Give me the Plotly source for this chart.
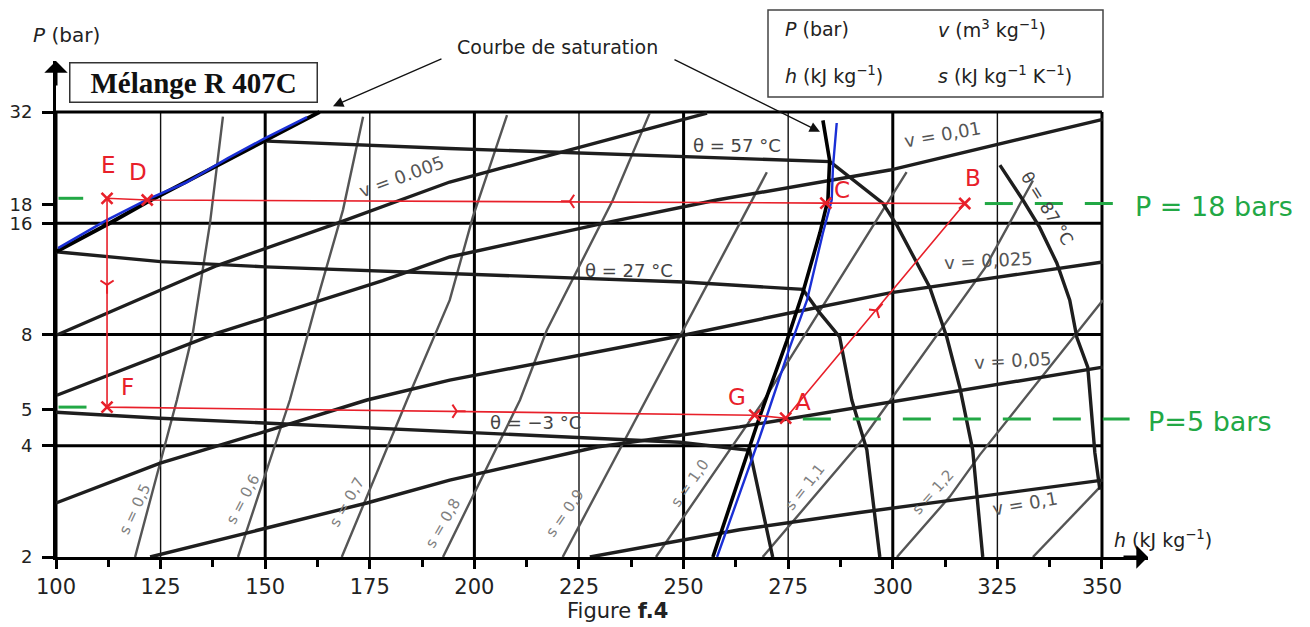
import math
import plotly.graph_objects as go

# ---------------- axes / grid ----------------
H_TICKS = [100, 125, 150, 175, 200, 225, 250, 275, 300, 325, 350]
H_MINOR = [112.5, 137.5, 162.5, 187.5, 212.5, 237.5, 262.5, 287.5, 312.5, 337.5]
P_TICKS = [2, 4, 5, 8, 16, 18, 32]
H_GRID_THICK = [100, 150, 200, 250, 300, 350]
H_GRID_THIN = [125, 175, 225, 275, 325]
P_GRID = [4, 8, 16, 32]
X_RANGE = [100, 361]
P_RANGE = [2, 44]

# ---------------- saturation curve ----------------
LIQ_H = [100.0, 112.8, 121.5, 149.4, 163.0]
LIQ_P = [13.4, 16.0, 18.2, 26.5, 32.0]
VAP_H = [283.3, 284.9, 284.5, 282.6, 278.5, 274.7, 268.2, 265.8, 257.0]
VAP_P = [30.4, 23.7, 18.5, 15.1, 10.4, 7.7, 4.8, 3.97, 2.0]
BLUE_LIQ_H = [100.5, 112.0, 122.0, 131.0, 141.0, 150.0, 160.0]
BLUE_LIQ_P = [13.7, 16.3, 18.6, 20.6, 24.0, 27.2, 31.0]
BLUE_VAP_H = [286.6, 285.7, 285.4, 283.3, 279.5, 275.4, 268.2, 258.0]
BLUE_VAP_P = [29.9, 22.7, 18.5, 15.06, 9.91, 7.40, 4.22, 2.0]

# ---------------- isotherms ----------------
T57_H = [150.4, 194.0, 285.0, 297.6, 301.0, 308.8, 312.9, 316.0, 319.1, 321.5]
T57_P = [26.7, 25.5, 23.5, 18.15, 15.8, 10.76, 7.88, 5.77, 3.90, 2.0]
T27_H = [100.0, 125.0, 150.0, 194.0, 250.0, 278.5, 282.6, 287.3, 290.2, 293.8, 296.9]
T27_P = [13.4, 12.6, 12.2, 11.7, 11.1, 10.6, 9.14, 7.88, 5.32, 3.90, 2.0]
TM3_H = [100.0, 124.9, 149.7, 174.6, 199.6, 224.5, 249.1, 265.8, 271.3]
TM3_P = [4.93, 4.75, 4.61, 4.47, 4.33, 4.20, 4.09, 3.89, 2.0]
T87_H = [325.6, 331.1, 335.1, 339.2, 342.3, 344.0, 346.6, 348.3, 349.5]
T87_P = [23.0, 18.5, 15.6, 12.5, 9.91, 7.85, 6.53, 3.83, 3.04]

# ---------------- isochores v ----------------
V005_H = [100.2, 138.5, 167.1, 194.1, 255.6]
V005_P = [7.98, 12.3, 16.0, 20.7, 31.8]
V01_H = [100.2, 138.5, 178.1, 194.1, 230.7, 257.9, 299.3, 350.2]
V01_P = [5.48, 8.07, 11.2, 12.97, 16.0, 18.5, 22.3, 30.6]
V025_H = [100.0, 124.9, 149.7, 174.3, 194.1, 249.1, 275.4, 299.3, 350.2]
V025_P = [2.80, 3.59, 4.36, 5.32, 6.02, 7.93, 9.15, 10.37, 12.57]
V05_H = [122.5, 174.3, 194.1, 229.3, 263.4, 292.1, 350.2]
V05_P = [2.0, 2.80, 3.23, 3.97, 4.50, 5.09, 6.53]
V1_H = [227.6, 263.4, 292.1, 350.2]
V1_P = [2.0, 2.37, 2.64, 3.23]

# ---------------- isentropes s ----------------
S05_H = [118.9, 128.9, 132.7, 136.8, 139.9]
S05_P = [2.0, 5.32, 8.07, 16.0, 31.1]
S06_H = [143.5, 155.9, 162.4, 168.6, 173.4]
S06_P = [2.0, 5.32, 9.91, 17.4, 31.1]
S07_H = [168.3, 183.9, 194.1, 199.6, 207.8]
S07_P = [2.0, 5.32, 9.91, 16.6, 31.4]
S08_H = [192.5, 210.9, 217.3, 233.1, 241.9]
S08_P = [2.0, 5.32, 8.22, 18.5, 31.8]
S09_H = [221.1, 249.1, 269.9]
S09_P = [2.0, 7.88, 22.0]
S10_H = [243.4, 268.9, 303.3]
S10_P = [2.0, 5.25, 22.0]
S11_H = [268.9, 292.1, 322.0, 333.5]
S11_P = [2.0, 4.07, 12.1, 20.9]
S12_H = [301.0, 313.6, 320.8, 350.2]
S12_P = [2.0, 2.91, 3.78, 9.91]
S13_H = [333.5, 349.5]
S13_P = [2.0, 3.09]

# ---------------- cycle (hand drawn) ----------------
CYCLE_NAMES = ["A", "B", "C", "D", "E", "F", "G"]
CYCLE_H = [274.4, 317.2, 284.0, 121.8, 112.2, 112.2, 267.0]
CYCLE_P = [4.75, 18.1, 18.15, 18.5, 18.7, 5.09, 4.84]
ARROW_H = [296.2, 222.8, 112.2, 195.8]
ARROW_P = [9.3, 18.35, 10.9, 4.96]
ARROW_ANGLE = [40, 270, 180, 90]

# green reference lines
G18_H = [322.0, 356.6]
G18_P = [18.1, 18.1]
G18L_H = [100.6, 106.5]
G18L_P = [18.7, 18.7]
G5_H = [278.5, 356.6]
G5_P = [4.73, 4.73]
G5L_H = [100.6, 109.3]
G5L_P = [5.09, 5.09]

FONT = "DejaVu Sans, sans-serif"

# page offset of the figure inside the browser window, and plot-area geometry
OFF = 8
L, T, PW, PH = 56, 61, 1092, 496


def pxx(x):
    return (x - L) / PW


def pxy(y):
    return (T + PH - y) / PH


fig = go.Figure()


def line(h, p, color, width, dash=None):
    fig.add_trace(go.Scatter(x=h, y=p, mode="lines",
                             line=dict(color=color, width=width, dash=dash),
                             hoverinfo="skip", showlegend=False))


# grid
for h in H_GRID_THIN:
    line([h, h], [P_RANGE[0], P_GRID[-1]], "#111", 1.4)
for h in H_GRID_THICK:
    line([h, h], [P_RANGE[0], P_GRID[-1]], "#000", 3)
for p in P_GRID:
    line([H_GRID_THICK[0], H_GRID_THICK[-1]], [p, p], "#000", 3)

# isentropes
S_COL = "#555"
for hh, pp in [(S05_H, S05_P), (S06_H, S06_P), (S07_H, S07_P), (S08_H, S08_P),
               (S09_H, S09_P), (S10_H, S10_P), (S11_H, S11_P), (S12_H, S12_P),
               (S13_H, S13_P)]:
    line(hh, pp, S_COL, 2.4)

# isochores
ISO_COL = "#1e1e1e"
for hh, pp in [(V005_H, V005_P), (V01_H, V01_P), (V025_H, V025_P),
               (V05_H, V05_P), (V1_H, V1_P)]:
    line(hh, pp, ISO_COL, 3.4)

# isotherms
for hh, pp in [(T57_H, T57_P), (T27_H, T27_P), (TM3_H, TM3_P), (T87_H, T87_P)]:
    line(hh, pp, ISO_COL, 3.4)

# saturation
line(LIQ_H, LIQ_P, "#000", 4)
line(VAP_H, VAP_P, "#000", 3.6)
line(BLUE_LIQ_H, BLUE_LIQ_P, "#1a2fd6", 2.6)
line(BLUE_VAP_H, BLUE_VAP_P, "#1a2fd6", 2.4)

# green dashed lines
GREEN = "#22a845"
for hh, pp in [(G18_H, G18_P), (G18L_H, G18L_P), (G5_H, G5_P), (G5L_H, G5L_P)]:
    line(hh, pp, GREEN, 3, dash="28px,22px")

# red cycle
RED = "#e8202a"
idx = {n: i for i, n in enumerate(CYCLE_NAMES)}
path = ["A", "B", "C", "D", "E", "F", "G", "A"]
line([CYCLE_H[idx[n]] for n in path], [CYCLE_P[idx[n]] for n in path], RED, 1.6)
fig.add_trace(go.Scatter(x=CYCLE_H, y=CYCLE_P, mode="markers",
                         marker=dict(symbol="x-thin", size=11, color=RED,
                                     line=dict(color=RED, width=2.6)),
                         hoverinfo="skip", showlegend=False))
fig.add_trace(go.Scatter(x=ARROW_H, y=ARROW_P, mode="markers",
                         marker=dict(symbol="y-up", size=11, color=RED, angle=ARROW_ANGLE,
                                     line=dict(color=RED, width=2)),
                         hoverinfo="skip", showlegend=False))

ann = []


def text(x, y, t, size=18, color="#222", angle=0, family=FONT, xanchor="center", **kw):
    ann.append(dict(x=pxx(x), y=pxy(y), xref="paper", yref="paper", text=t,
                    showarrow=False, font=dict(family=family, size=size, color=color),
                    textangle=angle, xanchor=xanchor, yanchor="middle", **kw))


# red point letters
for name, (x, y) in zip(CYCLE_NAMES, [(803, 402), (973, 178), (842, 190), (138, 172),
                                      (108, 165), (127, 387), (737, 397)]):
    text(x, y, name, size=23, color=RED)

# isotherm labels
text(737, 145, "θ = 57 °C", 18, "#444")
text(629, 270, "θ = 27 °C", 18, "#444")
text(535, 422, "θ = −3 °C", 18, "#444")
text(1047, 208, "θ = 87 °C", 17, "#444", angle=58)

# isochore labels
text(401, 176, "v = 0.005", 18, "#555", angle=-20)
text(942, 135, "v = 0,01", 18, "#555", angle=-10)
text(988, 260, "v = 0,025", 18, "#555", angle=-3)
text(1012, 360, "v = 0,05", 18, "#555", angle=-3)
text(1025, 503, "v = 0,1", 18, "#555", angle=-10)

# isentrope labels
for (x, y, t, a) in [(135, 509, "s = 0,5", -65), (243, 499, "s = 0,6", -62),
                     (347, 502, "s = 0,7", -60), (443, 523, "s = 0,8", -60),
                     (565, 513, "s = 0,9", -55), (690, 483, "s = 1,0", -55),
                     (805, 487, "s = 1,1", -52), (933, 492, "s = 1,2", -48)]:
    text(x, y, t, 15, "#808080", angle=a)

# axis titles, captions
text(31, 35, "<i>P</i> (bar)", 20, xanchor="left")
text(1112, 539, "<i>h</i> (kJ kg<sup>−1</sup>)", 19, xanchor="left")
text(617, 611, "Figure <b>f.4</b>", 21)
text(557, 47, "Courbe de saturation", 19)

# legend box texts
text(783, 29, "<i>P</i> (bar)", 19, xanchor="left")
text(936, 29, "<i>v</i> (m<sup>3</sup> kg<sup>−1</sup>)", 19, xanchor="left")
text(783, 75, "<i>h</i> (kJ kg<sup>−1</sup>)", 19, xanchor="left")
text(936, 75, "<i>s</i> (kJ kg<sup>−1</sup> K<sup>−1</sup>)", 19, xanchor="left")

# title box
ann.append(dict(x=pxx(193), y=pxy(83), xref="paper", yref="paper",
                text="<b>Mélange R 407C</b>", showarrow=False,
                font=dict(family="Liberation Serif, serif", size=29, color="#111"),
                bordercolor="#333", borderwidth=1.5, borderpad=1, bgcolor="white",
                width=244, height=36, xanchor="center", yanchor="middle"))

# green hand-written labels
text(1214, 206, "P = 18 bars", 27, GREEN)
text(1210, 421, "P=5 bars", 27, GREEN)

# saturation-curve pointer arrows
ann.append(dict(x=166.2, y=math.log10(33.2), xref="x", yref="y", text="",
                showarrow=True, arrowhead=2, arrowsize=1.6, arrowwidth=1.3,
                arrowcolor="#111", ax=110, ay=-48))
ann.append(dict(x=282.6, y=math.log10(28.3), xref="x", yref="y", text="",
                showarrow=True, arrowhead=2, arrowsize=1.6, arrowwidth=1.3,
                arrowcolor="#111", ax=-147, ay=-73))

# axis arrows
ann.append(dict(x=X_RANGE[1], y=math.log10(P_RANGE[0]), xref="x", yref="y", text="",
                showarrow=True, arrowhead=1, arrowsize=1.3, arrowwidth=3,
                arrowcolor="#000", ax=-26, ay=0))
ann.append(dict(x=X_RANGE[0], y=math.log10(P_RANGE[1]), xref="x", yref="y", text="",
                showarrow=True, arrowhead=1, arrowsize=1.3, arrowwidth=3,
                arrowcolor="#000", ax=0, ay=26))

shapes = [
    dict(type="rect", xref="paper", yref="paper",
         x0=pxx(768), x1=pxx(1103), y0=pxy(97), y1=pxy(10),
         line=dict(color="#444", width=1.5)),
]

W, H = 1310 - OFF, 627 - OFF
fig.update_layout(
    width=W, height=H,
    margin=dict(l=L - OFF, r=W - (L - OFF) - PW, t=T - OFF, b=H - (T - OFF) - PH,
                autoexpand=False),
    paper_bgcolor="white", plot_bgcolor="white",
    font=dict(family=FONT, color="#222"),
    annotations=ann, shapes=shapes, hovermode=False,
    xaxis=dict(range=X_RANGE, showgrid=False, zeroline=False, automargin=False,
               showline=True, linecolor="#000", linewidth=3,
               ticks="outside", ticklen=9, tickwidth=3, tickcolor="#000",
               tickvals=H_TICKS, ticktext=[str(v) for v in H_TICKS],
               tickfont=dict(size=21, family=FONT, color="#222"),
               minor=dict(tickvals=H_MINOR, ticks="outside", ticklen=7,
                          tickwidth=3, tickcolor="#000")),
    yaxis=dict(type="log", range=[math.log10(P_RANGE[0]), math.log10(P_RANGE[1])],
               showgrid=False, zeroline=False, automargin=False,
               showline=True, linecolor="#000", linewidth=3,
               ticks="outside", ticklen=11, tickwidth=3, tickcolor="#000",
               tickvals=P_TICKS, ticktext=[str(v) for v in P_TICKS],
               tickfont=dict(size=18, family=FONT, color="#222"),
               ticklabelstandoff=6),
)

fig.write_html("out.html")
